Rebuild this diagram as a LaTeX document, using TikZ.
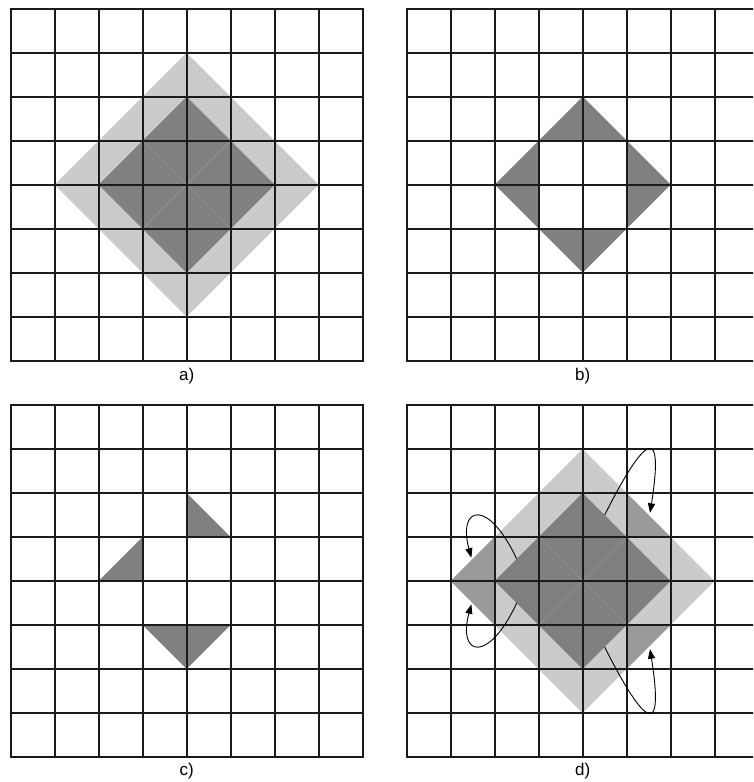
\documentclass[tikz,border=0pt]{standalone}
\usepackage{fontspec}
\setmainfont{Liberation Sans}
\usetikzlibrary{arrows.meta}
\definecolor{lightfill}{HTML}{CBCBCB}
\definecolor{darkfill}{HTML}{808080}
\definecolor{midfill}{HTML}{9A9A9A}
\definecolor{gridcol}{HTML}{1A1A1A}
\definecolor{seam}{HTML}{979797}
\tikzset{
  gridline/.style={draw=gridcol,line width=1.7pt,line cap=rect},
  lightpart/.style={fill=lightfill},
  darkpart/.style={fill=darkfill},
  midpart/.style={fill=midfill},
  seamline/.style={draw=seam,line width=0.6pt},
  swaparrow/.style={draw=black,line width=0.9pt,-{Triangle[length=9.5pt,width=7pt]}},
  caption/.style={font=\fontsize{17}{20}\selectfont,inner sep=0pt},
  panel/.style={x=44pt,y=-44pt}
}
\newcommand{\cellgrid}{%
  \foreach \i in {0,...,8} {
    \draw[gridline] (\i,0) -- (\i,8);
    \draw[gridline] (0,\i) -- (8,\i);
  }}
\begin{document}
\begin{tikzpicture}[x=1pt,y=-1pt]
\useasboundingbox (0,0) rectangle (753,782);
\clip (0,0) rectangle (753,782);
\fill[white] (0,0) rectangle (753,782);

% ---------- panel a ----------
\begin{scope}[shift={(10.7,8.7)},panel]
  \fill[lightpart] (4,1) -- (7,4) -- (4,7) -- (1,4) -- cycle;
  \fill[darkpart] (4,2) -- (6,4) -- (4,6) -- (2,4) -- cycle;
  \draw[seamline] (3,3) -- (5,5) (5,3) -- (3,5);
  \cellgrid
  \node[caption] (capa) at (4,8.34) {a)};
\end{scope}

% ---------- panel b ----------
\begin{scope}[shift={(406.7,8.7)},panel]
  \fill[darkpart,even odd rule] (4,2) -- (6,4) -- (4,6) -- (2,4) -- cycle (3,3) rectangle (5,5);
  \cellgrid
  \node[caption] (capb) at (4,8.34) {b)};
\end{scope}

% ---------- panel c ----------
\begin{scope}[shift={(10.7,405)},panel]
  \fill[darkpart] (4,2) -- (5,3) -- (4,3) -- cycle;
  \fill[darkpart] (3,3) -- (2,4) -- (3,4) -- cycle;
  \fill[darkpart] (3,5) -- (5,5) -- (4,6) -- cycle;
  \cellgrid
  \node[caption] (capc) at (4,8.32) {c)};
\end{scope}

% ---------- panel d ----------
\begin{scope}[shift={(406.7,405)},panel]
  \fill[lightpart] (4,1) -- (7,4) -- (4,7) -- (1,4) -- cycle;
  \fill[midpart] (1,4) -- (2,3) -- (2,5) -- cycle;
  \fill[midpart] (5,2) -- (6,3) -- (5,3) -- cycle;
  \fill[midpart] (5,5) -- (6,5) -- (5,6) -- cycle;
  \fill[darkpart] (4,2) -- (6,4) -- (4,6) -- (2,4) -- cycle;
  \draw[seamline] (3,3) -- (5,5) (5,3) -- (3,5);
  \cellgrid
  \coordinate (s1) at (2.5,3.5);
  \coordinate (t1) at (1.47,3.47);
  \coordinate (s2) at (2.5,4.5);
  \coordinate (t2) at (1.47,4.53);
  \coordinate (s3) at (4.5,2.5);
  \coordinate (t3) at (5.53,2.45);
  \coordinate (s4) at (4.5,5.5);
  \coordinate (t4) at (5.53,5.55);
  \draw[swaparrow] (s1) .. controls (1.85,2.1) and (1.15,2.3) .. (t1);
  \draw[swaparrow] (s2) .. controls (1.85,5.9) and (1.15,5.7) .. (t2);
  \draw[swaparrow] (s3) .. controls (5.0,1.5) and (5.95,-0.2) .. (t3);
  \draw[swaparrow] (s4) .. controls (5.0,6.5) and (5.95,8.2) .. (t4);
  \node[caption] (capd) at (4,8.32) {d)};
\end{scope}
\end{tikzpicture}
\end{document}
